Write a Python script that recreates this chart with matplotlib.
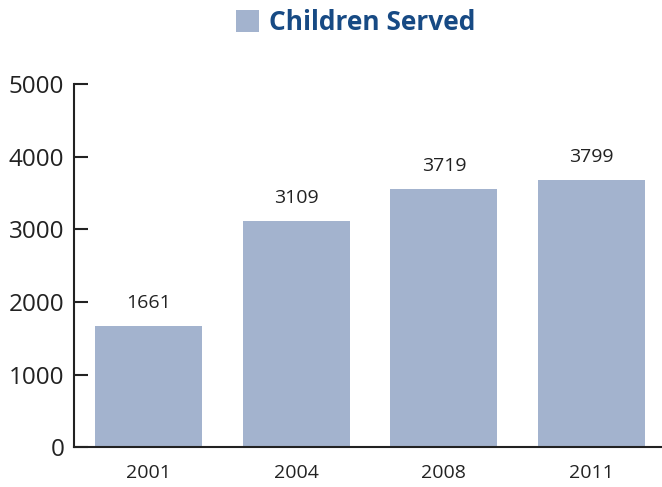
import matplotlib
matplotlib.use("Agg")
import matplotlib.pyplot as plt
import numpy as np

# Data
years = ["2001", "2004", "2008", "2011"]
bar_heights = [1669, 3117, 3559, 3683]          # drawn bar heights
bar_labels = ["1661", "3109", "3719", "3799"]   # printed value labels
y_ticks = [0, 1000, 2000, 3000, 4000, 5000]
series_name = "Children Served"

bar_color = "#A3B3CE"
title_color = "#174A84"
ink = "#222222"

plt.rcParams["font.family"] = ["Open Sans", "DejaVu Sans"]

fig = plt.figure(figsize=(6.62, 4.87), dpi=100)
ax = fig.add_axes([74 / 662, 40 / 487, 588 / 662, 362.5 / 487])

x = np.arange(len(years))
bars = ax.bar(x, bar_heights, width=0.725, color=bar_color, label=series_name, zorder=2)

# Value labels above bars
for xi, h, lab in zip(x, bar_heights, bar_labels):
    ax.annotate(lab, xy=(xi, h), xytext=(0, 16.5), textcoords="offset points",
                ha="center", va="center", fontsize=14, color=ink)

ax.set_xlim(-0.504, 3.477)
ax.set_ylim(0, 5000)
ax.set_xticks(x)
ax.set_xticklabels(years, fontsize=14, color=ink)
ax.set_yticks(y_ticks)
ax.set_yticklabels([str(t) for t in y_ticks], fontsize=17.5, color=ink)

ax.tick_params(axis="x", length=0, pad=12)
ax.tick_params(axis="y", direction="in", length=10, width=1.5, color=ink, pad=7)

for side in ["top", "right"]:
    ax.spines[side].set_visible(False)
for side in ["left", "bottom"]:
    ax.spines[side].set_linewidth(1.5)
    ax.spines[side].set_color(ink)

# Legend acts as the chart title
leg = fig.legend(handles=[bars], labels=[series_name], loc="upper center",
                 bbox_to_anchor=(0.538, 1.03), frameon=False,
                 handlelength=0.85, handleheight=0.85, handletextpad=0.4,
                 prop={"weight": "bold", "size": 19})
for t in leg.get_texts():
    t.set_color(title_color)

fig.savefig("out.png", dpi=100)
